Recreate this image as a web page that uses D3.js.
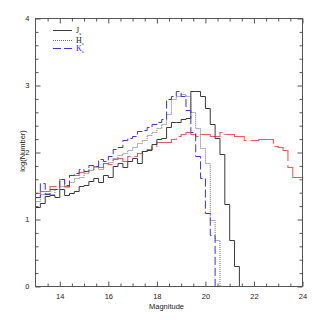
<!DOCTYPE html>
<html><head><meta charset="utf-8">
<script src="https://cdn.jsdelivr.net/npm/d3@7/dist/d3.min.js"></script>
<style>body{margin:0;background:#fff}svg{display:block}</style>
</head><body><svg id="c" width="320" height="320"></svg>
<script>
// magnitude bins (left edges), width 0.2 mag
const binStarts = [13.0,13.2,13.4,13.6,13.8,14.0,14.2,14.4,14.6,14.8,15.0,15.2,15.4,15.6,15.8,16.0,16.2,16.4,16.6,16.8,17.0,17.2,17.4,17.6,17.8,18.0,18.2,18.4,18.6,18.8,19.0,19.2,19.4,19.6,19.8,20.0,20.2,20.4,20.6,20.8,21.0,21.2,21.4,21.6,21.8,22.0,22.2,22.4,22.6,22.8,23.0,23.2,23.4,23.6,23.8,24.0];
const binWidth = 0.2;
// log(Number) per bin
const seriesJ = [1.18,1.25,1.35,1.36,1.33,1.45,1.36,1.40,1.43,1.50,1.52,1.58,1.62,1.56,1.66,1.63,1.80,1.84,1.78,1.88,1.92,1.85,2.02,2.04,2.12,2.20,2.22,2.38,2.45,2.45,2.50,2.52,2.92,2.92,2.84,2.67,2.43,2.22,1.98,1.23,0.70,0.31,0];
const seriesH = [1.28,1.38,1.40,1.38,1.45,1.50,1.48,1.56,1.62,1.64,1.70,1.74,1.78,1.75,1.84,1.86,1.92,1.96,2.00,2.04,2.08,2.14,2.18,2.26,2.30,2.36,2.42,2.58,2.80,2.85,2.87,2.85,2.60,2.37,2.07,1.85,1.00,0.70,0];
const seriesK = [1.33,1.55,1.38,1.45,1.46,1.60,1.52,1.66,1.70,1.76,1.72,1.82,1.80,1.90,1.88,1.95,2.05,2.08,2.18,2.22,2.24,2.32,2.34,2.38,2.43,2.45,2.50,2.80,2.85,2.92,2.85,2.63,2.30,1.95,1.62,1.10,0.77,0,0,0];
const seriesModel = [1.40,1.43,1.43,1.50,1.50,1.61,1.50,1.66,1.66,1.71,1.72,1.76,1.80,1.78,1.85,1.83,1.90,1.92,1.88,1.95,1.95,2.00,2.02,2.05,2.10,2.15,2.16,2.15,2.20,2.24,2.28,2.30,2.27,2.24,2.28,2.28,2.24,2.24,2.30,2.28,2.28,2.25,2.24,2.19,2.19,2.19,2.20,2.20,2.20,2.10,2.08,2.04,1.78,1.63,1.63,0.60];
const xTickLabels = [14,16,18,20,22,24];
const yTickLabels = [0,1,2,3,4];
const legendNames = ["J","H","K"];
const xLabel = "Magnitude";
const yLabel = "log(Number)";

const svg = d3.select("#c");
const x = d3.scaleLinear().domain([13,24]).range([35.5,302.5]);
const y = d3.scaleLinear().domain([0,4]).range([286.5,18.5]);

svg.append("defs").append("clipPath").attr("id","clip")
  .append("rect").attr("x",35.5).attr("y",18).attr("width",267.5).attr("height",269);

function stepPoints(vals){
  const pts = vals.map((v,i)=>[binStarts[i], v]);
  pts.push([binStarts[vals.length-1]+binWidth, vals[vals.length-1]]);
  return pts;
}
const line = d3.line().x(d=>x(d[0])).y(d=>Math.round(y(d[1]))+0.5).curve(d3.curveStepAfter);

const g = svg.append("g").attr("clip-path","url(#clip)");
const styles = [
  {data:seriesModel, color:"#f25a5a", dash:"28,4", w:1.1},
  {data:seriesJ, color:"#3a3a3a", dash:null, w:1},
  {data:seriesH, color:"#6a6a6a", dash:"1,1", w:1},
  {data:seriesK, color:"#3535f0", dash:"8,3", w:1}
];
styles.forEach(s=>{
  g.append("path").attr("d", line(stepPoints(s.data)))
    .attr("fill","none").attr("stroke",s.color).attr("stroke-width",s.w)
    .attr("stroke-dasharray",s.dash);
});

// axes
const axisColor = "#555";
const font = "Liberation Sans, Arial, sans-serif";
const xMinor = d3.range(13.5,24,0.5).filter(v=>xTickLabels.indexOf(v)<0);
const yMinor = d3.range(0.2,4,0.2).map(v=>+v.toFixed(1)).filter(v=>yTickLabels.indexOf(v)<0);

function styleAxis(sel){
  sel.select(".domain").remove();
  sel.selectAll("line").attr("stroke",axisColor);
  sel.selectAll("text").attr("fill","#222").style("font-family",font).style("font-size","7.5px");
}
svg.append("g").attr("transform","translate(0,286.5)")
  .call(d3.axisBottom(x).tickValues(xTickLabels).tickSizeInner(-5).tickSizeOuter(0).tickPadding(7).tickFormat(d3.format("d"))).call(styleAxis);
svg.append("g").attr("transform","translate(0,286.5)")
  .call(d3.axisBottom(x).tickValues(xMinor).tickSizeInner(-3).tickSizeOuter(0).tickFormat("")).call(styleAxis);
svg.append("g").attr("transform","translate(0,18.5)")
  .call(d3.axisTop(x).tickValues(xTickLabels).tickSizeInner(-5).tickSizeOuter(0).tickFormat("")).call(styleAxis);
svg.append("g").attr("transform","translate(0,18.5)")
  .call(d3.axisTop(x).tickValues(xMinor).tickSizeInner(-3).tickSizeOuter(0).tickFormat("")).call(styleAxis);
svg.append("g").attr("transform","translate(35.5,0)")
  .call(d3.axisLeft(y).tickValues(yTickLabels).tickSizeInner(-5).tickSizeOuter(0).tickPadding(6).tickFormat(d3.format("d"))).call(styleAxis);
svg.append("g").attr("transform","translate(35.5,0)")
  .call(d3.axisLeft(y).tickValues(yMinor).tickSizeInner(-3).tickSizeOuter(0).tickFormat("")).call(styleAxis);
svg.append("g").attr("transform","translate(302.5,0)")
  .call(d3.axisRight(y).tickValues(yTickLabels).tickSizeInner(-5).tickSizeOuter(0).tickFormat("")).call(styleAxis);
svg.append("g").attr("transform","translate(302.5,0)")
  .call(d3.axisRight(y).tickValues(yMinor).tickSizeInner(-3).tickSizeOuter(0).tickFormat("")).call(styleAxis);

svg.append("rect").attr("x",35.5).attr("y",18.5).attr("width",267).attr("height",268)
  .attr("fill","none").attr("stroke",axisColor).attr("stroke-width",1);

svg.append("text").attr("x",166.5).attr("y",309).attr("text-anchor","middle")
  .style("font-family",font).style("font-size","7.5px").attr("fill","#222").text(xLabel);
svg.append("text").attr("transform","translate(25,151) rotate(-90)").attr("text-anchor","middle")
  .style("font-family",font).style("font-size","7.5px").attr("fill","#222").text(yLabel);

// legend
const legY = [30.5, 40.5, 48.5];
const legColors = ["#3a3a3a","#6a6a6a","#3535f0"];
const legDash = [null,"1,1","8,3"];
const legText = ["#222","#222","#2020f0"];
legendNames.forEach((n,i)=>{
  svg.append("line").attr("x1",53).attr("x2",72).attr("y1",legY[i]).attr("y2",legY[i])
    .attr("stroke",legColors[i]).attr("stroke-dasharray",legDash[i]);
  const t = svg.append("text").attr("x",76).attr("y",legY[i]+2.5)
    .style("font-family","Liberation Serif, Times New Roman, serif").style("font-size","8px")
    .attr("fill",legText[i]);
  t.append("tspan").text(n);
  t.append("tspan").attr("dy",1.5).style("font-size","5px").text("s");
});
</script></body></html>
